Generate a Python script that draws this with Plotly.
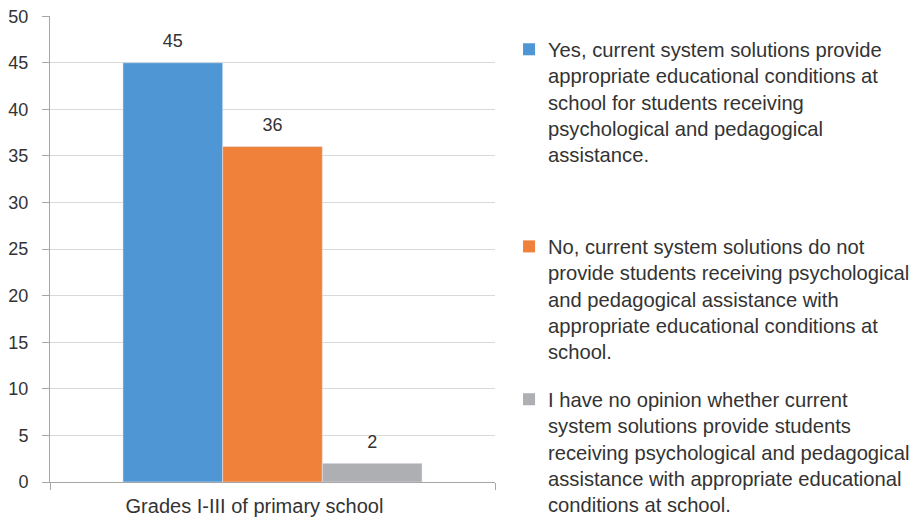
import plotly.graph_objects as go

categories = ["Grades I-III of primary school"]
series_names = [
    "Yes, current system solutions provide<br>appropriate educational conditions at<br>school for students receiving<br>psychological and pedagogical<br>assistance.",
    "No, current system solutions do not<br>provide students receiving psychological<br>and pedagogical assistance with<br>appropriate educational conditions at<br>school.",
    "I have no opinion whether current<br>system solutions provide students<br>receiving psychological and pedagogical<br>assistance with appropriate educational<br>conditions at school.",
]
yes_values = [45]
no_values = [36]
no_opinion_values = [2]
series_values = [yes_values, no_values, no_opinion_values]
colors = ["#4F96D4", "#EF813A", "#AEAFB2"]
y_ticks = [0, 5, 10, 15, 20, 25, 30, 35, 40, 45, 50]

# legend layout (paper coords)
legend_tops = [0.955, 0.532, 0.204]
legend_text_x = 1.115

FONT = "Liberation Sans"
TXT = "#333333"
fig = go.Figure()
for i, (name, vals, col) in enumerate(zip(series_names, series_values, colors)):
    fig.add_trace(go.Bar(
        x=categories, y=vals, name=name, marker_color=col,
        offsetgroup=str(i), alignmentgroup="a",
        showlegend=False, hoverinfo="skip",
    ))
for i, (name, vals, col) in enumerate(zip(series_names, series_values, colors)):
    # value labels placed with the bars
    fig.add_trace(go.Scatter(
        x=categories, y=vals, mode="markers+text",
        marker=dict(size=16, opacity=0), offsetgroup=str(i), alignmentgroup="a",
        text=[str(v) for v in vals], textposition="top center",
        textfont=dict(size=18, color=TXT, family=FONT),
        cliponaxis=False, showlegend=False, hoverinfo="skip",
    ))
for i, (name, col) in enumerate(zip(series_names, colors)):
    top = legend_tops[i]
    fig.add_annotation(xref="paper", yref="paper", x=legend_text_x, y=top,
                       xanchor="left", yanchor="top", align="left", showarrow=False,
                       text=name, font=dict(size=20.2, family=FONT, color=TXT))
    fig.add_shape(type="rect", xref="paper", yref="paper",
                  x0=1.063, x1=1.090, y0=top - 0.0135 - 0.0258, y1=top - 0.0135,
                  fillcolor=col, line=dict(width=0))

fig.update_layout(
    width=920, height=518,
    margin=dict(l=50, r=425, t=16, b=36, autoexpand=False),
    paper_bgcolor="white", plot_bgcolor="white",
    barmode="group", bargap=0.328, bargroupgap=0,
    scattermode="group", scattergap=0.328,
    font=dict(family=FONT, size=18, color=TXT),
    showlegend=False,
)
fig.update_xaxes(showline=True, linecolor="#A6A6A6", linewidth=1,
                 ticks="outside", tickson="boundaries", ticklen=7, tickcolor="#A6A6A6",
                 tickfont=dict(size=20, color=TXT), showgrid=False,
                 ticklabelshift=-18, ticklabelstandoff=6, automargin=False)
fig.update_yaxes(range=[0, 50.02], tickvals=y_ticks, showline=True, linecolor="#A6A6A6",
                 linewidth=1, ticks="outside", ticklen=7, tickcolor="#A6A6A6",
                 showgrid=True, gridcolor="#D9D9D9", gridwidth=1, zeroline=False,
                 tickfont=dict(size=18, color=TXT), ticklabelstandoff=10,
                 ticklabeloverflow="allow", automargin=False)

# remove the default page margin so the 920x518 figure fills the window
fig.write_html("out.html", config={"displayModeBar": False},
               post_script="document.body.style.margin='0';")
